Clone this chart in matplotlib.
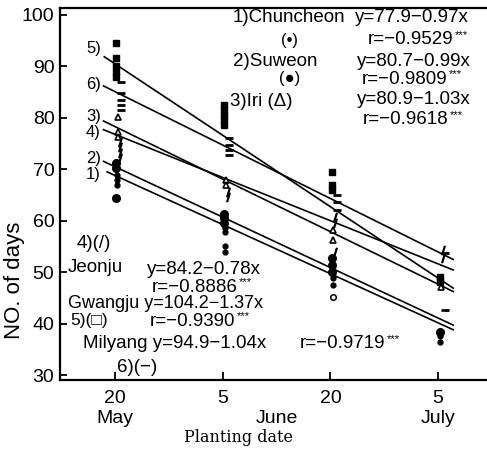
import matplotlib
matplotlib.use("Agg")
import matplotlib.pyplot as plt
import numpy as np

# ---------------- data ----------------
dates = [0, 15, 30, 45]                 # days after 20 May
date_labels = ["20", "5", "20", "5"]
month_labels = ["May", "June", "July"]
month_pos = [0, 22.5, 45]

sites = ["Chuncheon", "Suweon", "Iri", "Jeonju", "Gwangju", "Milyang"]
intercepts = [68.8, 70.5, 78.3, 76.8, 90.5, 85.1]      # value at 20 May
slopes = [-0.637, -0.654, -0.681, -0.560, -0.926, -0.693]  # per day
line_start = [-1.1, -1.6, -1.6, -1.6, -1.5, -1.6]
line_end = 47.1

chuncheon_pts = [[68.9, 67.9, 66.9], [58.5, 57.9, 55.0, 54.0], [48.8, 47.5], [37.5, 36.5]]
suweon_pts = [[64.4, 70.2, 71.2], [61.4, 60.5, 59.5], [52.7, 51.4, 50.1], [38.4]]
iri_pts = [[80.2, 77.3, 76.3], [67.9, 66.9], [56.3, 58.2], [47.2]]
jeonju_pts = [[75.4, 74.4, 73.1, 72.1], [65.6, 64.7], [60.8, 59.5, 54.0], [52.7, 54.3]]
gwangju_pts = [[94.5, 91.6, 90.0, 89.0, 88.0], [82.5, 81.5, 80.6, 79.6, 78.6],
               [69.5, 66.9, 66.0], [49.1, 48.1]]
milyang_pts = [[87.0, 84.8, 83.5, 82.5, 81.5], [76.0, 74.7, 73.7, 72.8],
               [65.0, 63.7, 62.1], [53.7, 42.6]]
open_circle_pts = [[], [], [45.2], []]
site_pts = [chuncheon_pts, suweon_pts, iri_pts, jeonju_pts, gwangju_pts, milyang_pts]

# ---------------- style ----------------
W, H = 487, 455
fig = plt.figure(figsize=(W / 100, H / 100), dpi=100)
ax = fig.add_axes([60 / W, 1 - 380 / H, 1 - 60 / W, (380 - 8) / H])
FAM = ["Liberation Sans", "DejaVu Sans"]

ax.set_xlim(-7.66, 51.8)
ax.set_ylim(29.03, 101.36)

for s in ["left", "bottom", "top"]:
    ax.spines[s].set_linewidth(1.6)
ax.spines["right"].set_visible(False)

ax.set_yticks([30, 40, 50, 60, 70, 80, 90, 100])
ax.set_yticklabels([str(v) for v in [30, 40, 50, 60, 70, 80, 90, 100]],
                   fontsize=14, family=FAM)
ax.tick_params(axis="y", direction="in", length=5, width=1.3, pad=4)
ax.set_xticks(dates)
ax.set_xticklabels(date_labels, fontsize=14, family=FAM)
ax.tick_params(axis="x", direction="in", length=6, width=1.3, pad=7)

for lab, xp in zip(month_labels, month_pos):
    ax.text(xp, -0.115, lab, transform=ax.get_xaxis_transform(), ha="center",
            va="baseline", fontsize=14, family=FAM)

# regression lines
for a, b, xs in zip(intercepts, slopes, line_start):
    xx = np.array([xs, line_end])
    ax.plot(xx, a + b * xx, color="black", lw=1.2, zorder=2)

# points
marker_styles = [
    dict(marker="o", ms=3.5, mfc="black", mec="black"),
    dict(marker="o", ms=5.5, mfc="black", mec="black"),
    dict(marker="^", ms=4.5, mfc="white", mec="black", mew=1.2),
    dict(marker="$/$", ms=6, mfc="black", mec="black"),
    dict(marker="s", ms=4, mfc="black", mec="black"),
    dict(marker="_", ms=6, mfc="black", mec="black", mew=2),
]
x_offsets = [0.3, 0.2, 0.4, 0.7, 0.2, 0.9]
for pts, st, off in zip(site_pts, marker_styles, x_offsets):
    for d, vals in zip(dates, pts):
        ax.plot([d + off] * len(vals), vals, ls="none", zorder=3, **st)
for d, vals in zip(dates, open_circle_pts):
    ax.plot([d + 0.3] * len(vals), vals, ls="none", marker="o", ms=4,
            mfc="white", mec="black", mew=1.1, zorder=3)

# ---------------- text ----------------
def P(px, py):
    return (px / W, 1 - py / H)

starred = []

def T(px, py, s, ha="left", fs=13.5, star=False, **kw):
    t = fig.text(*P(px, py), s, ha=ha, va="center", fontsize=fs, family=FAM, **kw)
    if star:
        starred.append(t)
    return t

# line labels
for lab, py in zip(["5)", "6)", "3)", "4)", "2)", "1)"], [48, 85, 116, 132, 158, 174]):
    T(101, py, lab, ha="right", fs=12)

# upper annotations
T(233, 18, "1)Chuncheon")
T(355, 18, "y=77.9−0.97x")
T(290, 40, "(•)", ha="center", fs=12)
T(368, 40, "r=−0.9529", star=True)
T(233, 62, "2)Suweon")
T(357, 62, "y=80.7−0.99x")
T(290, 78, "(●)", ha="center", fs=12)
T(362, 79, "r=−0.9809", star=True)
T(230, 101, "3)Iri (Δ)")
T(357, 100, "y=80.9−1.03x")
T(363, 120, "r=−0.9618", star=True)

# lower annotations
T(77, 243, "4)(/)")
T(68, 268, "Jeonju")
T(147, 269, "y=84.2−0.78x")
T(152, 287, "r=−0.8886", star=True)
T(68, 304, "Gwangju y=104.2−1.37x", fs=13)
T(70, 320, "5)(□)", fs=12.5)
T(150, 321, "r=−0.9390", star=True)
T(83, 344, "Milyang y=94.9−1.04x")
T(300, 344, "r=−0.9719", star=True)
T(117, 368, "6)(−)")

# significance stars
fig.canvas.draw()
rend = fig.canvas.get_renderer()
for t in starred:
    bb = t.get_window_extent(rend)
    fig.text((bb.x1 + 1) / W, (bb.y1 + 1) / H, "***", ha="left", va="top",
             fontsize=8, family=FAM)

# axis labels
fig.text(*P(15, 280), "NO. of days", rotation=90, ha="center", va="center",
         fontsize=16, family=FAM)
fig.text(*P(239, 438), "Planting date", ha="center", va="center",
         fontsize=11.5, family=["DejaVu Serif"])

fig.savefig("out.png", dpi=100)
